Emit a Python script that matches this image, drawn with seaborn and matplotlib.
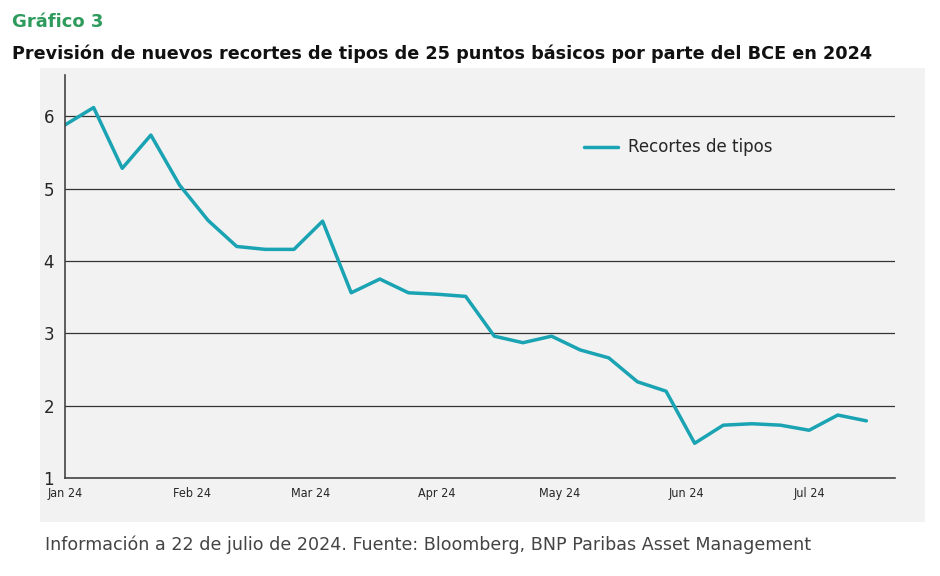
import pandas as pd
import matplotlib.pyplot as plt
import matplotlib.dates as mdates
import seaborn as sns

# weekly observations from 1 Jan 2024
dates = pd.date_range("2024-01-01", periods=29, freq="7D")
cuts = [5.88, 6.12, 5.28, 5.74, 5.05, 4.56, 4.20, 4.16, 4.16, 4.55,
        3.56, 3.75, 3.56, 3.54, 3.51, 2.96, 2.87, 2.96, 2.77, 2.66,
        2.33, 2.20, 1.48, 1.73, 1.75, 1.73, 1.66, 1.87, 1.79]
df = pd.DataFrame({"fecha": dates, "Recortes de tipos": cuts})

sns.set_style("white")
plt.rcParams['font.family'] = ['DejaVu Sans']

fig = plt.figure(figsize=(9.4, 5.76), dpi=100)
bg = fig.add_axes([40/940, 1-522/576, 885/940, 454/576])
bg.set_facecolor("#f2f2f2")
bg.set_xticks([]); bg.set_yticks([])
for s in bg.spines.values():
    s.set_visible(False)

ax = fig.add_axes([65/940, 1-478/576, 830/940, 403/576])
ax.set_facecolor("#f2f2f2")
sns.lineplot(data=df, x="fecha", y="Recortes de tipos", ax=ax,
             color="#19a3b3", linewidth=2.5, label="Recortes de tipos")
ax.set_xlim(pd.Timestamp("2024-01-01"), pd.Timestamp("2024-07-22"))
ax.set_ylim(1, 6.57)
ax.set_yticks([1, 2, 3, 4, 5, 6])
ax.yaxis.grid(True, color="#333333", linewidth=0.9)
ax.set_axisbelow(True)
ax.xaxis.set_major_locator(mdates.MonthLocator())
ax.xaxis.set_major_formatter(mdates.DateFormatter("%b %y"))
ax.tick_params(axis="x", labelsize=9, length=3, direction="out", color="#444444")
ax.tick_params(axis="y", labelsize=12, length=0, pad=8)
for lab in ax.get_xticklabels():
    lab.set_fontstretch("condensed")
ax.set_xlabel(""); ax.set_ylabel("")
for s in ["top", "right"]:
    ax.spines[s].set_visible(False)
for s in ["left", "bottom"]:
    ax.spines[s].set_color("#444444")
    ax.spines[s].set_linewidth(1.2)
ax.legend(loc="upper right", bbox_to_anchor=(0.87, 0.88), frameon=False,
          fontsize=12, handlelength=2.0, handletextpad=0.6)

fig.text(12/940, 1-22/576, "Gráfico 3", color="#2e9a5c", fontsize=13,
         fontweight="bold", va="center")
fig.text(12/940, 1-54/576,
         "Previsión de nuevos recortes de tipos de 25 puntos básicos por parte del BCE en 2024",
         color="#111111", fontsize=12.7, fontweight="bold", va="center")
fig.text(45/940, 1-545/576,
         "Información a 22 de julio de 2024. Fuente: Bloomberg, BNP Paribas Asset Management",
         color="#444444", fontsize=12.6, va="center")

fig.savefig("out.png", dpi=100)
